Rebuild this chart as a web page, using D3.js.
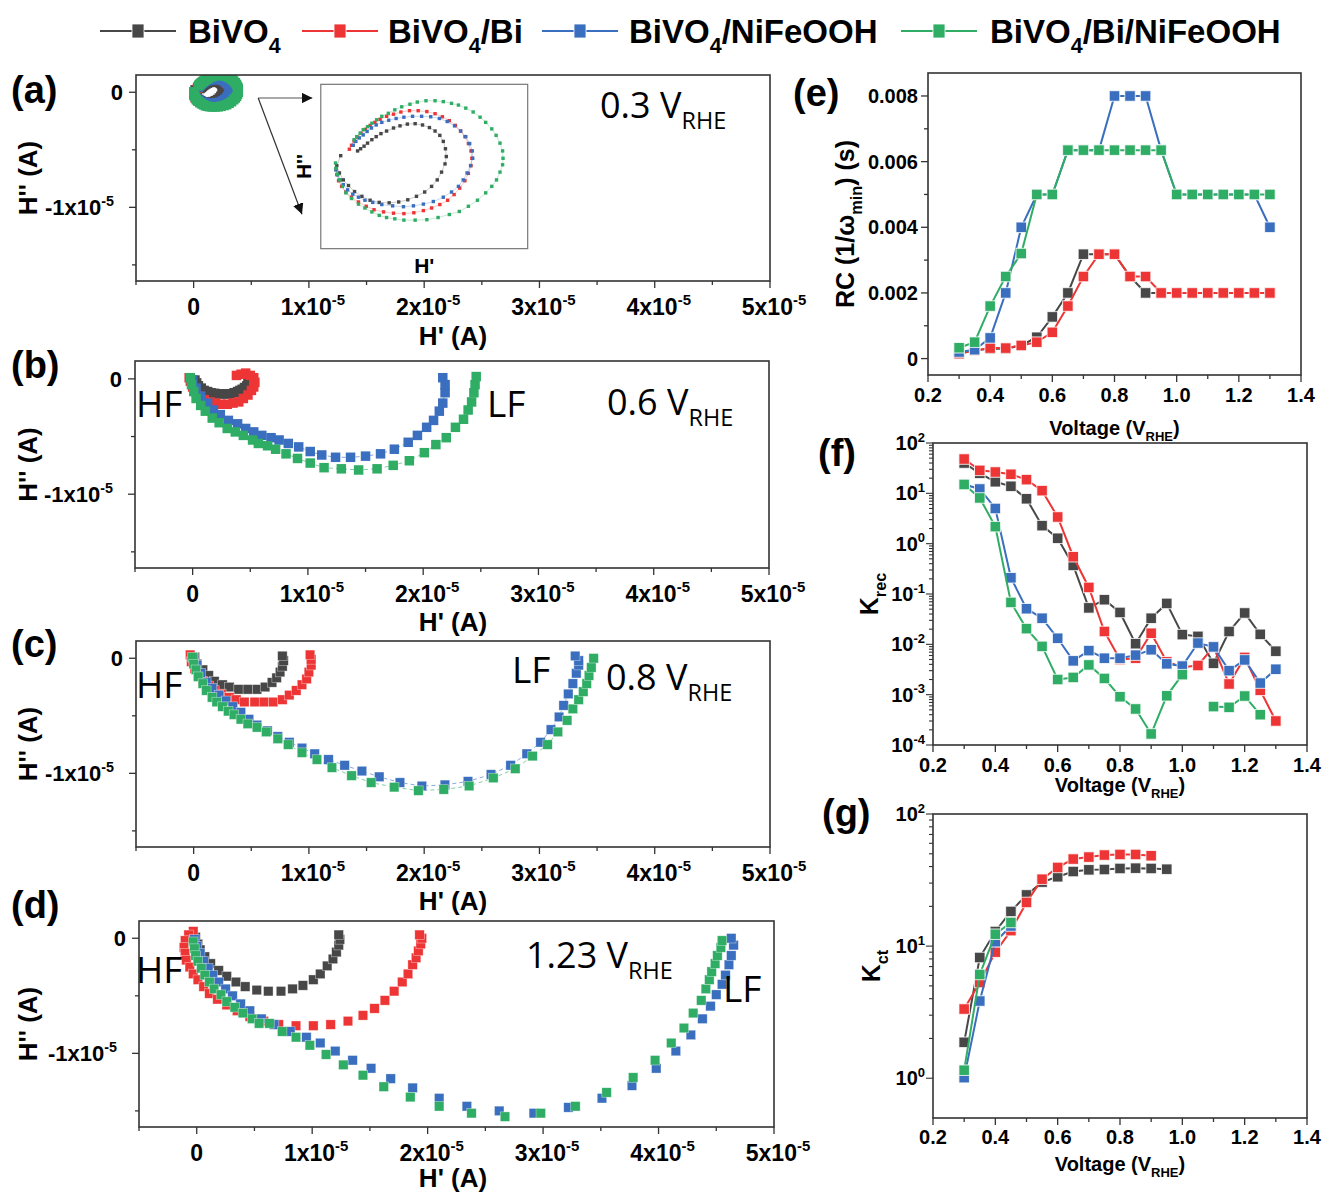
<!DOCTYPE html>
<html><head><meta charset="utf-8">
<script src="https://cdn.jsdelivr.net/npm/d3@7/dist/d3.min.js"></script>
<style>
body{margin:0;background:#fff;}
svg text{font-family:"Liberation Sans",Arial,sans-serif;fill:#000;}
</style></head><body>
<svg id="chart" width="1328" height="1193"></svg>
<script>
// ---------------- DATA ----------------
const seriesNames = ["BiVO4", "BiVO4/Bi", "BiVO4/NiFeOOH", "BiVO4/Bi/NiFeOOH"];
const seriesColors = ["#474747", "#ee3535", "#3a6ebe", "#2fad65"];

// Nyquist-type H'' vs H' data, values in units of 1e-5 A
// (a) 0.3 V_RHE
const aGray = [[0.013,0.021],[0.004,-0.002],[0.010,-0.019],[0.019,-0.035],[0.031,-0.048],[0.045,-0.062],[0.062,-0.073],[0.081,-0.082],[0.102,-0.087],[0.125,-0.088],[0.147,-0.086],[0.168,-0.081],[0.188,-0.073],[0.207,-0.063],[0.223,-0.050],[0.236,-0.035],[0.246,-0.017],[0.254,0.002],[0.257,0.019],[0.255,0.037],[0.250,0.054],[0.242,0.068],[0.231,0.078],[0.218,0.086],[0.202,0.092],[0.185,0.095],[0.167,0.094],[0.150,0.090],[0.135,0.085],[0.119,0.078],[0.106,0.072],[0.095,0.065],[0.085,0.058],[0.075,0.050],[0.067,0.043],[0.059,0.037],[0.052,0.032]];
const aRed = [[0.002,-0.010],[0.004,-0.023],[0.008,-0.037],[0.015,-0.050],[0.025,-0.063],[0.038,-0.075],[0.054,-0.086],[0.072,-0.096],[0.090,-0.104],[0.112,-0.109],[0.135,-0.112],[0.159,-0.113],[0.182,-0.111],[0.204,-0.106],[0.223,-0.100],[0.242,-0.092],[0.260,-0.082],[0.275,-0.069],[0.288,-0.054],[0.300,-0.037],[0.308,-0.020],[0.314,-0.002],[0.316,0.015],[0.314,0.032],[0.308,0.049],[0.300,0.065],[0.290,0.078],[0.278,0.091],[0.264,0.102],[0.248,0.111],[0.231,0.118],[0.212,0.123],[0.192,0.125],[0.172,0.125],[0.152,0.122],[0.135,0.117],[0.119,0.112],[0.104,0.105],[0.092,0.098],[0.081,0.091],[0.070,0.082],[0.060,0.073],[0.052,0.064],[0.044,0.055],[0.038,0.045],[0.033,0.036]];
const aBlue = [[0.002,-0.012],[0.006,-0.023],[0.012,-0.035],[0.019,-0.046],[0.029,-0.058],[0.041,-0.068],[0.054,-0.075],[0.069,-0.082],[0.087,-0.087],[0.108,-0.092],[0.133,-0.095],[0.158,-0.097],[0.181,-0.095],[0.204,-0.091],[0.227,-0.085],[0.250,-0.075],[0.269,-0.063],[0.285,-0.050],[0.296,-0.035],[0.305,-0.019],[0.313,-0.002],[0.318,0.015],[0.317,0.032],[0.311,0.049],[0.302,0.065],[0.290,0.078],[0.276,0.090],[0.259,0.100],[0.241,0.107],[0.221,0.111],[0.200,0.112],[0.179,0.112],[0.159,0.110],[0.141,0.107],[0.124,0.103],[0.108,0.098],[0.095,0.092],[0.084,0.085],[0.074,0.077],[0.065,0.069],[0.056,0.062],[0.048,0.054],[0.042,0.045]];
const aGreen = [[0.001,0.004],[0.002,-0.008],[0.005,-0.022],[0.010,-0.035],[0.017,-0.050],[0.025,-0.065],[0.038,-0.078],[0.054,-0.091],[0.069,-0.100],[0.085,-0.109],[0.102,-0.117],[0.119,-0.122],[0.138,-0.125],[0.159,-0.128],[0.185,-0.128],[0.212,-0.127],[0.238,-0.122],[0.264,-0.115],[0.287,-0.108],[0.308,-0.096],[0.329,-0.082],[0.348,-0.065],[0.362,-0.050],[0.373,-0.035],[0.381,-0.017],[0.387,0.000],[0.388,0.015],[0.387,0.032],[0.381,0.050],[0.372,0.068],[0.362,0.083],[0.348,0.098],[0.335,0.110],[0.319,0.122],[0.302,0.131],[0.285,0.138],[0.269,0.142],[0.250,0.146],[0.231,0.148],[0.210,0.148],[0.190,0.145],[0.173,0.140],[0.154,0.134],[0.138,0.127],[0.123,0.119],[0.108,0.112],[0.096,0.104],[0.085,0.096],[0.075,0.088],[0.065,0.081],[0.058,0.073],[0.050,0.065],[0.044,0.058]];

// (b) 0.6 V_RHE
const bGray = [[0.02,-0.01],[0.035,-0.035],[0.05,-0.06],[0.075,-0.08],[0.10,-0.10],[0.13,-0.11],[0.16,-0.12],[0.19,-0.125],[0.21,-0.13],[0.24,-0.13],[0.27,-0.13],[0.30,-0.13],[0.33,-0.13],[0.36,-0.12],[0.39,-0.11],[0.41,-0.10],[0.43,-0.09],[0.45,-0.075],[0.47,-0.06],[0.48,-0.03]];
const bRed = [[-0.03,0.01],[-0.02,-0.02],[0.00,-0.07],[0.03,-0.11],[0.06,-0.15],[0.10,-0.18],[0.15,-0.20],[0.20,-0.21],[0.25,-0.22],[0.30,-0.22],[0.35,-0.21],[0.40,-0.20],[0.44,-0.17],[0.48,-0.14],[0.51,-0.10],[0.53,-0.07],[0.54,-0.03],[0.53,0.01],[0.50,0.03],[0.46,0.05],[0.42,0.04],[0.38,0.03]];
const bBlue = [[0.00,-0.01],[0.03,-0.08],[0.07,-0.15],[0.13,-0.21],[0.18,-0.27],[0.24,-0.31],[0.31,-0.36],[0.39,-0.39],[0.46,-0.43],[0.53,-0.46],[0.60,-0.49],[0.68,-0.51],[0.75,-0.53],[0.83,-0.56],[0.92,-0.59],[1.02,-0.63],[1.12,-0.66],[1.24,-0.68],[1.37,-0.68],[1.50,-0.67],[1.63,-0.65],[1.75,-0.61],[1.87,-0.55],[1.95,-0.49],[2.03,-0.42],[2.09,-0.36],[2.14,-0.28],[2.17,-0.21],[2.19,-0.12],[2.19,-0.05],[2.17,0.01]];
const bGreen = [[-0.02,0.01],[-0.01,-0.05],[0.01,-0.11],[0.03,-0.17],[0.07,-0.23],[0.11,-0.28],[0.17,-0.34],[0.23,-0.38],[0.30,-0.43],[0.37,-0.46],[0.44,-0.49],[0.52,-0.53],[0.57,-0.56],[0.65,-0.58],[0.72,-0.61],[0.81,-0.65],[0.91,-0.69],[1.02,-0.73],[1.14,-0.77],[1.29,-0.78],[1.44,-0.79],[1.60,-0.78],[1.74,-0.75],[1.88,-0.71],[2.01,-0.64],[2.11,-0.57],[2.20,-0.51],[2.28,-0.42],[2.35,-0.35],[2.39,-0.27],[2.42,-0.20],[2.44,-0.12],[2.45,-0.05],[2.46,0.02]];

// (c) 0.8 V_RHE
const cGray = [[0.01,0.01],[0.03,-0.05],[0.08,-0.10],[0.13,-0.15],[0.18,-0.20],[0.25,-0.23],[0.31,-0.25],[0.39,-0.27],[0.47,-0.27],[0.55,-0.27],[0.62,-0.25],[0.68,-0.21],[0.72,-0.17],[0.75,-0.12],[0.77,-0.07],[0.78,-0.02],[0.77,0.02]];
const cRed = [[-0.03,0.03],[-0.02,-0.03],[0.01,-0.09],[0.04,-0.15],[0.08,-0.20],[0.13,-0.24],[0.18,-0.28],[0.24,-0.31],[0.31,-0.34],[0.37,-0.36],[0.44,-0.38],[0.53,-0.38],[0.61,-0.38],[0.69,-0.38],[0.77,-0.36],[0.83,-0.32],[0.89,-0.28],[0.94,-0.23],[0.98,-0.18],[1.00,-0.12],[1.02,-0.06],[1.02,-0.01],[1.01,0.03]];
const cBlue = [[0.00,0.00],[0.03,-0.06],[0.06,-0.13],[0.11,-0.21],[0.16,-0.26],[0.22,-0.32],[0.28,-0.37],[0.34,-0.42],[0.41,-0.47],[0.48,-0.53],[0.55,-0.58],[0.64,-0.63],[0.73,-0.68],[0.83,-0.73],[0.94,-0.78],[1.05,-0.83],[1.17,-0.88],[1.31,-0.93],[1.46,-0.98],[1.61,-1.03],[1.79,-1.08],[1.98,-1.11],[2.18,-1.10],[2.38,-1.07],[2.58,-1.01],[2.75,-0.93],[2.89,-0.83],[3.01,-0.73],[3.10,-0.62],[3.17,-0.51],[3.21,-0.41],[3.25,-0.31],[3.29,-0.22],[3.32,-0.13],[3.34,-0.06],[3.34,-0.02],[3.31,0.02]];
const cGreen = [[-0.01,0.01],[0.00,-0.05],[0.02,-0.10],[0.04,-0.16],[0.08,-0.22],[0.11,-0.28],[0.16,-0.34],[0.20,-0.38],[0.25,-0.42],[0.30,-0.46],[0.35,-0.49],[0.41,-0.53],[0.47,-0.57],[0.55,-0.60],[0.63,-0.64],[0.73,-0.70],[0.82,-0.75],[0.94,-0.82],[1.07,-0.88],[1.20,-0.95],[1.37,-1.02],[1.54,-1.08],[1.74,-1.12],[1.95,-1.15],[2.17,-1.14],[2.39,-1.11],[2.60,-1.04],[2.79,-0.96],[2.94,-0.85],[3.07,-0.75],[3.16,-0.64],[3.24,-0.54],[3.29,-0.44],[3.34,-0.36],[3.38,-0.29],[3.41,-0.22],[3.43,-0.15],[3.45,-0.08],[3.47,0.00]];

// (d) 1.23 V_RHE
const dGray = [[-0.01,0.01],[0.01,-0.05],[0.03,-0.10],[0.07,-0.16],[0.12,-0.22],[0.19,-0.28],[0.26,-0.33],[0.34,-0.38],[0.42,-0.42],[0.52,-0.45],[0.62,-0.46],[0.73,-0.46],[0.83,-0.44],[0.92,-0.41],[1.01,-0.36],[1.07,-0.31],[1.13,-0.24],[1.18,-0.18],[1.21,-0.12],[1.23,-0.06],[1.24,-0.01],[1.23,0.03]];
const dRed = [[-0.03,0.06],[-0.07,0.03],[-0.10,-0.02],[-0.11,-0.08],[-0.10,-0.13],[-0.09,-0.19],[-0.06,-0.25],[-0.03,-0.31],[0.01,-0.36],[0.06,-0.42],[0.11,-0.48],[0.18,-0.53],[0.26,-0.58],[0.35,-0.63],[0.46,-0.68],[0.58,-0.72],[0.71,-0.75],[0.86,-0.76],[1.01,-0.76],[1.16,-0.75],[1.31,-0.72],[1.44,-0.67],[1.54,-0.61],[1.63,-0.54],[1.71,-0.46],[1.78,-0.38],[1.83,-0.31],[1.87,-0.23],[1.90,-0.17],[1.92,-0.11],[1.94,-0.05],[1.95,0.00],[1.93,0.03]];
const dBlue = [[-0.02,-0.01],[0.00,-0.07],[0.03,-0.13],[0.06,-0.20],[0.10,-0.26],[0.14,-0.32],[0.19,-0.38],[0.25,-0.44],[0.31,-0.50],[0.38,-0.57],[0.46,-0.63],[0.56,-0.70],[0.67,-0.75],[0.81,-0.81],[0.95,-0.86],[1.07,-0.91],[1.20,-0.98],[1.35,-1.06],[1.51,-1.13],[1.68,-1.22],[1.87,-1.30],[2.10,-1.39],[2.34,-1.46],[2.62,-1.50],[2.92,-1.52],[3.22,-1.47],[3.51,-1.39],[3.77,-1.28],[3.98,-1.13],[4.15,-0.98],[4.28,-0.84],[4.38,-0.70],[4.45,-0.59],[4.50,-0.49],[4.55,-0.40],[4.58,-0.32],[4.61,-0.23],[4.63,-0.15],[4.65,-0.06],[4.63,0.00]];
const dGreen = [[-0.03,-0.03],[-0.02,-0.09],[-0.01,-0.15],[0.01,-0.20],[0.04,-0.26],[0.07,-0.32],[0.11,-0.38],[0.15,-0.44],[0.21,-0.49],[0.26,-0.55],[0.33,-0.60],[0.40,-0.65],[0.48,-0.70],[0.54,-0.74],[0.63,-0.74],[0.74,-0.81],[0.86,-0.86],[0.98,-0.93],[1.12,-1.01],[1.27,-1.10],[1.44,-1.19],[1.62,-1.29],[1.85,-1.38],[2.10,-1.46],[2.38,-1.52],[2.67,-1.55],[2.98,-1.52],[3.28,-1.46],[3.55,-1.34],[3.78,-1.21],[3.97,-1.06],[4.11,-0.91],[4.22,-0.78],[4.30,-0.65],[4.37,-0.54],[4.41,-0.44],[4.44,-0.36],[4.46,-0.29],[4.49,-0.22],[4.51,-0.15],[4.54,-0.08],[4.55,-0.02]];

// (e)-(g) vs voltage
const voltages = [0.30,0.35,0.40,0.45,0.50,0.55,0.60,0.65,0.70,0.75,0.80,0.85,0.90,0.95,1.00,1.05,1.10,1.15,1.20,1.25,1.30];
const rcGray  = [0.00015,0.00025,0.0003,0.0003,0.0004,0.00065,0.00127,0.002,0.00318,0.00318,0.00318,0.0025,0.002,0.002,0.002,0.002,0.002,0.002,0.002,0.002,0.002];
const rcRed   = [0.00015,0.00025,0.00032,0.00032,0.0004,0.0005,0.0008,0.0016,0.0025,0.00318,0.00318,0.0025,0.0025,0.002,0.002,0.002,0.002,0.002,0.002,0.002,0.002];
const rcBlue  = [0.0002,0.00027,0.00063,0.002,0.004,0.005,0.005,0.00635,0.00635,0.00635,0.008,0.008,0.008,0.00635,0.005,0.005,0.005,0.005,0.005,0.005,0.004];
const rcGreen = [0.00033,0.0005,0.0016,0.0025,0.0032,0.005,0.005,0.00635,0.00635,0.00635,0.00635,0.00635,0.00635,0.00635,0.005,0.005,0.005,0.005,0.005,0.005,0.005];

const krecGray  = [40,25,17,13.8,7.8,2.28,1.28,0.37,0.053,0.077,0.043,0.0103,0.033,0.065,0.0156,0.0144,0.0042,0.018,0.042,0.0158,0.0073];
const krecRed   = [48,28.6,26.5,23.9,18.7,11.3,3.39,0.55,0.135,0.018,0.005,0.0053,0.0166,0.0045,0.0035,0.0038,0.0089,0.00163,0.0055,0.00122,0.0003];
const krecBlue  = [15,12.2,5.0,0.21,0.051,0.033,0.0132,0.0047,0.0075,0.0053,0.0053,0.0061,0.0078,0.0041,0.0037,0.0106,0.0089,0.003,0.0049,0.0017,0.0032];
const krecGreen = [15,8.1,2.18,0.068,0.0205,0.0091,0.002,0.0022,0.0039,0.0021,0.00091,0.00052,0.000166,0.00095,0.0025,null,0.00058,0.00056,0.00094,0.0004,null];

const kctGray  = [1.87,8.2,12.9,18.3,24.4,30.5,33.5,36.7,37.8,38.0,38.7,38.9,38.7,38.2];
const kctRed   = [3.34,5.3,9.0,13.1,21.4,32.1,39.4,45.6,47.2,48.9,49.4,49.4,48.3];
const kctBlue  = [1.01,3.84,10.8,14.2];
const kctGreen = [1.15,6.1,12.3,15.1];

const nyqXTicks = [0,1,2,3,4,5];
const nyqYTicks = [0,-1];
const voltTicks = [0.2,0.4,0.6,0.8,1.0,1.2,1.4];
const rcTicks = [0,0.002,0.004,0.006,0.008];
const krecExps = [-4,-3,-2,-1,0,1,2];
const kctExps = [0,1,2];

// ---------------- HELPERS ----------------
const svg = d3.select("#chart");
const AX = "#333";

function rich(parent, x, y, parts, size, opts = {}) {
  const t = parent.append("text").attr("x", x).attr("y", y).attr("font-size", size);
  if (opts.weight) t.attr("font-weight", opts.weight);
  if (opts.anchor) t.attr("text-anchor", opts.anchor);
  if (opts.family) t.style("font-family", opts.family);
  if (opts.transform) t.attr("transform", opts.transform);
  let cur = 0;
  parts.forEach(([s, type]) => {
    const ts = t.append("tspan").text(s);
    const target = type === "sup" ? -size * 0.42 : type === "sub" ? size * 0.3 : 0;
    ts.attr("dy", target - cur);
    cur = target;
    if (type !== "n") ts.attr("font-size", size * 0.65);
  });
  return t;
}

function squares(g, pts, sx, sy, color, size, strokeW, strokeOp) {
  g.selectAll(null).data(pts.filter(p => p[1] !== null)).enter().append("rect")
    .attr("x", d => sx(d[0]) - size / 2).attr("y", d => sy(d[1]) - size / 2)
    .attr("width", size).attr("height", size)
    .attr("fill", color).attr("stroke", "#fff").attr("stroke-width", strokeW).attr("stroke-opacity", strokeOp);
}

function box(g, L, R, T, B) {
  g.append("rect").attr("x", L).attr("y", T).attr("width", R - L).attr("height", B - T)
    .attr("fill", "none").attr("stroke", AX).attr("stroke-width", 1.6);
}

let clipId = 0;
function clip(L, R, T, B) {
  const id = "clip" + (clipId++);
  svg.append("clipPath").attr("id", id).append("rect").attr("x", L).attr("y", T).attr("width", R - L).attr("height", B - T);
  return "url(#" + id + ")";
}

// ---------------- LEGEND ----------------
const legendPos = [[100, 188], [302, 388], [542, 629], [901, 990]];
const legendParts = [
  [["BiVO", "n"], ["4", "sub"]],
  [["BiVO", "n"], ["4", "sub"], ["/Bi", "n"]],
  [["BiVO", "n"], ["4", "sub"], ["/NiFeOOH", "n"]],
  [["BiVO", "n"], ["4", "sub"], ["/Bi/NiFeOOH", "n"]]
];
seriesNames.forEach((name, i) => {
  const [lx, tx] = legendPos[i];
  const g = svg.append("g").attr("class", "legend-item");
  g.append("line").attr("x1", lx).attr("x2", lx + 76).attr("y1", 31).attr("y2", 31)
    .attr("stroke", seriesColors[i]).attr("stroke-width", 2);
  g.append("rect").attr("x", lx + 38 - 6).attr("y", 24).attr("width", 12).attr("height", 14)
    .attr("fill", seriesColors[i]).attr("stroke", "#fff").attr("stroke-width", 0.8);
  rich(g, tx, 43, legendParts[i], 33, { weight: "bold" });
});

// ---------------- NYQUIST PANELS ----------------
function nyqPanel(cfg) {
  const { L, R, T, B, yTop, yBot, sets, lines, label, labelY, note, hf, lf, mStroke } = cfg;
  const g = svg.append("g");
  const x = d3.scaleLinear().domain([-0.5, 5]).range([L, R]);
  const y = d3.scaleLinear().domain([yTop, yBot]).range([T, B]);
  // ticks
  d3.range(-0.5, 5.01, 0.5).forEach(v => {
    const major = Math.abs(v - Math.round(v)) < 1e-6;
    g.append("line").attr("x1", x(v)).attr("x2", x(v)).attr("y1", B).attr("y2", B + (major ? 7 : 4))
      .attr("stroke", AX).attr("stroke-width", 1.3);
  });
  [0, -0.5, -1, -1.5].forEach(v => {
    const major = Math.abs(v - Math.round(v)) < 1e-6;
    g.append("line").attr("x1", L).attr("x2", L - (major ? 7 : 4)).attr("y1", y(v)).attr("y2", y(v))
      .attr("stroke", AX).attr("stroke-width", 1.3);
  });
  nyqXTicks.forEach(v => {
    const parts = v === 0 ? [["0", "n"]] : [[v + "x10", "n"], ["-5", "sup"]];
    rich(g, x(v) + (v === 0 ? 0 : 4), B + 34, parts, 23, { weight: "bold", anchor: "middle" });
  });
  nyqYTicks.forEach(v => {
    const parts = v === 0 ? [["0", "n"]] : [[v + "x10", "n"], ["-5", "sup"]];
    rich(g, L - (v === 0 ? 13 : 22), y(v) + 8, parts, 22, { weight: "bold", anchor: "end" });
  });
  rich(g, 453, B + cfg.titleDy, [["H' (A)", "n"]], 26, { weight: "bold", anchor: "middle" });
  rich(g, 0, 0, [["H'' (A)", "n"]], 26, { weight: "bold", anchor: "middle", transform: `translate(37,${(T + B) / 2}) rotate(-90)` });
  // panel label
  rich(g, 11, labelY, [[label, "n"]], 38, { weight: "bold" });
  // data
  const cp = clip(L, R, T, B);
  const dg = g.append("g").attr("clip-path", cp);
  sets.forEach((pts, i) => {
    if (lines) {
      dg.append("path").attr("d", d3.line().x(d => x(d[0])).y(d => y(d[1]))(pts))
        .attr("fill", "none").attr("stroke", seriesColors[i]).attr("stroke-width", 1)
        .attr("stroke-opacity", 0.6).attr("stroke-dasharray", "4,3");
    }
  });
  sets.forEach((pts, i) => squares(dg, pts, x, y, seriesColors[i], 9.5, mStroke, 0.6));
  box(g, L, R, T, B);
  // annotations
  const F = "'Open Sans','Noto Sans',sans-serif";
  rich(g, note[0], note[1], [[note[2], "n"], ["RHE", "sub"]], 36, { family: F });
  if (hf) rich(g, hf[0], hf[1], [["HF", "n"]], 37, { family: F });
  if (lf) rich(g, lf[0], lf[1], [["LF", "n"]], 37, { family: F });
  return { g, x, y };
}

const pa = nyqPanel({ L: 136, R: 770, T: 75, B: 281, yTop: 0.15, yBot: -1.64, sets: [aGray, aRed, aBlue, aGreen], lines: false,
  label: "(a)", labelY: 103, note: [600, 118, "0.3 V"], mStroke: 0, titleDy: 64 });
nyqPanel({ L: 135, R: 769, T: 361, B: 568, yTop: 0.155, yBot: -1.64, sets: [bGray, bRed, bBlue, bGreen], lines: true,
  label: "(b)", labelY: 378, note: [607, 415, "0.6 V"], hf: [136, 417], lf: [487, 417], mStroke: 0, titleDy: 63 });
nyqPanel({ L: 136, R: 770, T: 641, B: 847, yTop: 0.15, yBot: -1.64, sets: [cGray, cRed, cBlue, cGreen], lines: true,
  label: "(c)", labelY: 657, note: [606, 690, "0.8 V"], hf: [136, 698], lf: [512, 683], mStroke: 0.6, titleDy: 63 });
nyqPanel({ L: 139, R: 774, T: 921, B: 1127, yTop: 0.15, yBot: -1.64, sets: [dGray, dRed, dBlue, dGreen], lines: false,
  label: "(d)", labelY: 918, note: [526, 968, "1.23 V"], hf: [136, 983], lf: [723, 1002], mStroke: 0.6, titleDy: 60 });

// inset of (a)
(function () {
  const { g, x, y } = pa;
  const iL = x(1.103), iR = x(2.898), iT = y(0.069), iB = y(-1.359);
  const ix = d3.scaleLinear().domain([-0.033, 0.445]).range([iL, iR]);
  const iy = d3.scaleLinear().domain([0.186, -0.194]).range([iT, iB]);
  const ig = g.append("g");
  ig.append("rect").attr("x", iL).attr("y", iT).attr("width", iR - iL).attr("height", iB - iT)
    .attr("fill", "#fff").attr("stroke", "#777").attr("stroke-width", 1.2);
  [aGray, aRed, aBlue, aGreen].forEach((pts, i) => {
    ig.append("path").attr("d", d3.line().x(d => ix(d[0])).y(d => iy(d[1]))(pts))
      .attr("fill", "none").attr("stroke", seriesColors[i]).attr("stroke-width", 0.8).attr("stroke-opacity", 0.35);
  });
  [aGray, aRed, aBlue, aGreen].forEach((pts, i) => {
    ig.selectAll(null).data(pts).enter().append("rect")
      .attr("x", d => ix(d[0]) - 1.7).attr("y", d => iy(d[1]) - 1.7).attr("width", 3.4).attr("height", 3.4)
      .attr("fill", seriesColors[i]);
  });
  rich(ig, (iL + iR) / 2, iB + 24, [["H'", "n"]], 21, { weight: "bold", anchor: "middle" });
  rich(ig, 0, 0, [["H''", "n"]], 21, { weight: "bold", anchor: "middle", transform: `translate(${iL - 10},${(iT + iB) / 2}) rotate(-90)` });
  // arrows
  const defs = svg.append("defs");
  defs.append("marker").attr("id", "arr").attr("viewBox", "0 0 10 10").attr("refX", 10).attr("refY", 5)
    .attr("markerWidth", 9).attr("markerHeight", 9).attr("orient", "auto")
    .append("path").attr("d", "M0,0 L10,5 L0,10 Z").attr("fill", "#111");
  const sx = x(0.56), sy = y(-0.05);
  g.append("line").attr("x1", sx).attr("y1", sy).attr("x2", x(1.03)).attr("y2", sy)
    .attr("stroke", "#555").attr("stroke-width", 1.2).attr("marker-end", "url(#arr)");
  g.append("line").attr("x1", sx).attr("y1", sy).attr("x2", x(0.94)).attr("y2", y(-1.06))
    .attr("stroke", "#333").attr("stroke-width", 1.2).attr("marker-end", "url(#arr)");
})();

// ---------------- VOLTAGE PANELS ----------------
function voltPanel(cfg) {
  const { L, R, T, B, y, sets, label, labelPos, yTitle, yTitleX, tickLabelDy, titleDy, yTicksFn } = cfg;
  const g = svg.append("g");
  const x = d3.scaleLinear().domain([0.2, 1.4]).range([L, R]);
  y.range([B, T]);
  d3.range(0.2, 1.401, 0.1).forEach((v, k) => {
    const major = k % 2 === 0;
    g.append("line").attr("x1", x(v)).attr("x2", x(v)).attr("y1", B).attr("y2", B + (major ? 7 : 4))
      .attr("stroke", AX).attr("stroke-width", 1.3);
  });
  voltTicks.forEach(v => rich(g, x(v), B + tickLabelDy, [[v.toFixed(1), "n"]], 20, { weight: "bold", anchor: "middle" }));
  rich(g, (L + R) / 2, B + titleDy, [["Voltage (V", "n"], ["RHE", "sub"], [")", "n"]], 20, { weight: "bold", anchor: "middle" });
  yTicksFn(g, L, y);
  rich(g, 0, 0, yTitle, 25, { weight: "bold", anchor: "middle", transform: `translate(${yTitleX},${(T + B) / 2}) rotate(-90)` });
  rich(g, labelPos[0], labelPos[1], [[label, "n"]], 38, { weight: "bold" });
  const dg = g.append("g").attr("clip-path", clip(L, R, T, B));
  sets.forEach((vals, i) => {
    const pts = vals.map((v, k) => [voltages[k], v]);
    dg.append("path").attr("d", d3.line().defined(d => d[1] !== null).x(d => x(d[0])).y(d => y(d[1]))(pts))
      .attr("fill", "none").attr("stroke", seriesColors[i]).attr("stroke-width", 2);
    squares(dg, pts, x, y, seriesColors[i], 10.5, 1, 0.8);
  });
  box(g, L, R, T, B);
}

// (e)
voltPanel({
  L: 928, R: 1301, T: 73, B: 375, y: d3.scaleLinear().domain([-0.0005, 0.0087]),
  sets: [rcGray, rcRed, rcBlue, rcGreen], label: "(e)", labelPos: [793, 106],
  yTitle: [["RC (1/ω", "n"], ["min", "sub"], [") (s)", "n"]], yTitleX: 854, tickLabelDy: 27, titleDy: 60,
  yTicksFn: (g, L, y) => {
    d3.range(0, 0.00801, 0.001).forEach((v, k) => {
      const major = k % 2 === 0;
      g.append("line").attr("x1", L).attr("x2", L - (major ? 7 : 4)).attr("y1", y(v)).attr("y2", y(v))
        .attr("stroke", AX).attr("stroke-width", 1.3);
    });
    rcTicks.forEach(v => rich(g, L - 10, y(v) + 7, [[v === 0 ? "0" : v.toFixed(3), "n"]], 20, { weight: "bold", anchor: "end" }));
  }
});

function logTicks(expList, minV, maxV) {
  return (g, L, y) => {
    expList.forEach(e => {
      for (let m = 1; m <= 9; m++) {
        const v = m * Math.pow(10, e);
        if (v < minV * 0.999 || v > maxV * 1.001) continue;
        g.append("line").attr("x1", L).attr("x2", L - (m === 1 ? 7 : 4)).attr("y1", y(v)).attr("y2", y(v))
          .attr("stroke", AX).attr("stroke-width", 1.1);
      }
      rich(g, L - 8, y(Math.pow(10, e)) + 7, [["10", "n"], [String(e), "sup"]], 20, { weight: "bold", anchor: "end" });
    });
  };
}

// (f)
voltPanel({
  L: 933, R: 1307, T: 443, B: 745, y: d3.scaleLog().domain([1e-4, 1e2]),
  sets: [krecGray, krecRed, krecBlue, krecGreen], label: "(f)", labelPos: [818, 466],
  yTitle: [["K", "n"], ["rec", "sub"]], yTitleX: 878, tickLabelDy: 27, titleDy: 47,
  yTicksFn: logTicks(krecExps, 1e-4, 1e2)
});

// (g)
voltPanel({
  L: 933, R: 1307, T: 814, B: 1118, y: d3.scaleLog().domain([0.5, 100]),
  sets: [kctGray, kctRed, kctBlue, kctGreen], label: "(g)", labelPos: [822, 826],
  yTitle: [["K", "n"], ["ct", "sub"]], yTitleX: 880, tickLabelDy: 26, titleDy: 53,
  yTicksFn: logTicks(kctExps, 0.5, 100)
});
</script></body></html>
